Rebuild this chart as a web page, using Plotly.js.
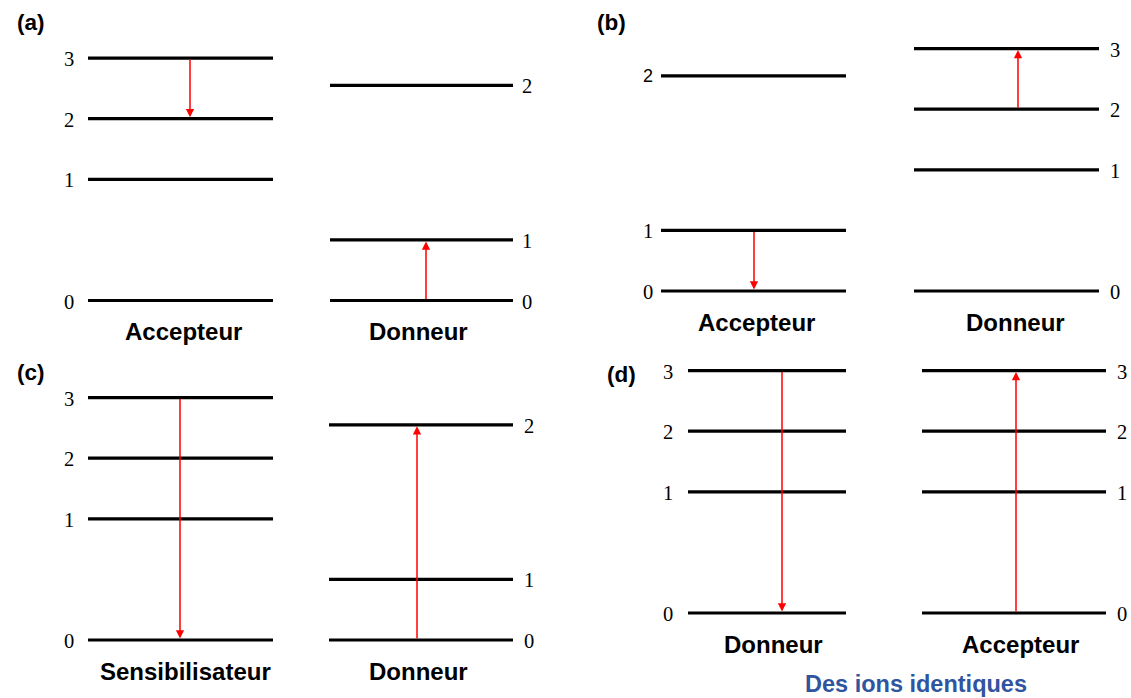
<!DOCTYPE html>
<html>
<head>
<meta charset="utf-8">
<script src="https://cdn.plot.ly/plotly-3.0.1.min.js"></script>
<style>html,body{margin:0;padding:0;background:#fff;}#chart{width:1131px;height:698px;}</style>
</head>
<body>
<div id="chart"></div>
<script>
// ---------- DATA ----------
const panelLetters = ['(a)', '(b)', '(c)', '(d)'];
const levelNumbers = ['0', '1', '2', '3'];

const ionNamesA = ['Accepteur', 'Donneur'];
const ionNamesB = ['Accepteur', 'Donneur'];
const ionNamesC = ['Sensibilisateur', 'Donneur'];
const ionNamesD = ['Donneur', 'Accepteur'];

// level energies (arbitrary units), index = level number
const energiesA1 = [0, 2, 3, 4];      // Accepteur
const energiesA2 = [0, 1, 3.55];      // Donneur
const energiesB1 = [0, 1, 3.55];      // Accepteur
const energiesB2 = [0, 2, 3, 4];      // Donneur
const energiesC1 = [0, 2, 3, 4];      // Sensibilisateur
const energiesC2 = [0, 1, 3.55];      // Donneur
const energiesD1 = [0, 2, 3, 4];      // Donneur
const energiesD2 = [0, 2, 3, 4];      // Accepteur

// transitions [from level, to level] for each column
const transitionsA = [[3, 2], [0, 1]];
const transitionsB = [[1, 0], [2, 3]];
const transitionsC = [[3, 0], [0, 2]];
const transitionsD = [[3, 0], [0, 3]];

const footnote = 'Des ions identiques';

// ---------- LAYOUT CONFIG ----------
const W = 1131, H = 698, pxPerUnit = 60.6;
const serif = 'Liberation Serif, Times New Roman, serif';
const sans = 'Liberation Sans, Arial, sans-serif';

const panels = [
  { letter: panelLetters[0], letterPos: [31, 22], base: 300.5, names: ionNamesA, energies: [energiesA1, energiesA2], trans: transitionsA,
    cols: [ {x0: 88, x1: 273, side: 'left', labelX: 76, arrowX: 190, nameX: 183},
            {x0: 330, x1: 513, side: 'right', labelX: 520, arrowX: 426, nameX: 418} ] },
  { letter: panelLetters[1], letterPos: [611, 22], base: 291, names: ionNamesB, energies: [energiesB1, energiesB2], trans: transitionsB,
    cols: [ {x0: 661, x1: 846, side: 'left', labelX: 655, arrowX: 754, nameX: 756, sansLevel: 2},
            {x0: 914, x1: 1099, side: 'right', labelX: 1108, arrowX: 1018, nameX: 1015} ] },
  { letter: panelLetters[2], letterPos: [31, 372], base: 640, names: ionNamesC, energies: [energiesC1, energiesC2], trans: transitionsC,
    cols: [ {x0: 88, x1: 273, side: 'left', labelX: 76, arrowX: 180, nameX: 185},
            {x0: 329, x1: 513, side: 'right', labelX: 522, arrowX: 417, nameX: 418} ] },
  { letter: panelLetters[3], letterPos: [621, 374], base: 613, names: ionNamesD, energies: [energiesD1, energiesD2], trans: transitionsD,
    cols: [ {x0: 688, x1: 846, side: 'left', labelX: 675, arrowX: 782, nameX: 773},
            {x0: 922, x1: 1106, side: 'right', labelX: 1115, arrowX: 1016, nameX: 1020} ] }
];

// ---------- BUILD ----------
const traces = [];
const annotations = [];
const layout = {
  width: W, height: H,
  margin: {l: 0, r: 0, t: 0, b: 0},
  paper_bgcolor: '#ffffff', plot_bgcolor: '#ffffff',
  showlegend: false,
  xaxis: {range: [0, W], domain: [0, 1], visible: false, fixedrange: true}
};

panels.forEach((p, i) => {
  const yName = i === 0 ? 'y' : 'y' + (i + 1);
  const axKey = i === 0 ? 'yaxis' : 'yaxis' + (i + 1);
  layout[axKey] = {
    range: [(p.base - H) / pxPerUnit, p.base / pxPerUnit],
    domain: [0, 1], anchor: 'x', visible: false, fixedrange: true
  };
  if (i > 0) layout[axKey].overlaying = 'y';

  // panel letter
  annotations.push({
    text: '<b>' + p.letter + '</b>', xref: 'x', yref: 'paper',
    x: p.letterPos[0], y: 1 - p.letterPos[1] / H, showarrow: false,
    xanchor: 'center', yanchor: 'middle', font: {family: sans, size: 22.5, color: '#000'}
  });

  p.cols.forEach((c, j) => {
    const en = p.energies[j];
    en.forEach((e, k) => {
      traces.push({
        x: [c.x0, c.x1], y: [e, e], xaxis: 'x', yaxis: yName,
        mode: 'lines', line: {color: '#000', width: 3.2}, hoverinfo: 'skip'
      });
      const useSans = c.sansLevel === k;
      annotations.push({
        text: levelNumbers[k], xref: 'x', yref: yName, x: c.labelX, y: e,
        showarrow: false, xanchor: c.side === 'left' ? 'right' : 'left', yanchor: 'middle',
        yshift: useSans ? 0 : -1,
        font: {family: useSans ? sans : serif, size: useSans ? 18 : 20.5, color: '#000'}
      });
    });
    // transition arrow
    const tr = p.trans[j];
    annotations.push({
      text: '', xref: 'x', yref: yName, x: c.arrowX, y: en[tr[1]],
      axref: 'x', ayref: yName, ax: c.arrowX, ay: en[tr[0]],
      showarrow: true, arrowhead: 2, arrowsize: 1.1, arrowwidth: 1.5,
      arrowcolor: '#ff0000', standoff: 1.5
    });
    // ion name
    annotations.push({
      text: '<b>' + p.names[j] + '</b>', xref: 'x', yref: yName,
      x: c.nameX, y: -31 / pxPerUnit, showarrow: false,
      xanchor: 'center', yanchor: 'middle', font: {family: sans, size: 24, color: '#000'}
    });
  });
});

annotations.push({
  text: '<b>' + footnote + '</b>', xref: 'x', yref: 'paper', x: 916, y: 1 - 684 / H,
  showarrow: false, xanchor: 'center', yanchor: 'middle',
  font: {family: sans, size: 23.5, color: '#2F54A0'}
});

layout.annotations = annotations;
Plotly.newPlot('chart', traces, layout, {staticPlot: true, displayModeBar: false});
</script>
</body>
</html>
